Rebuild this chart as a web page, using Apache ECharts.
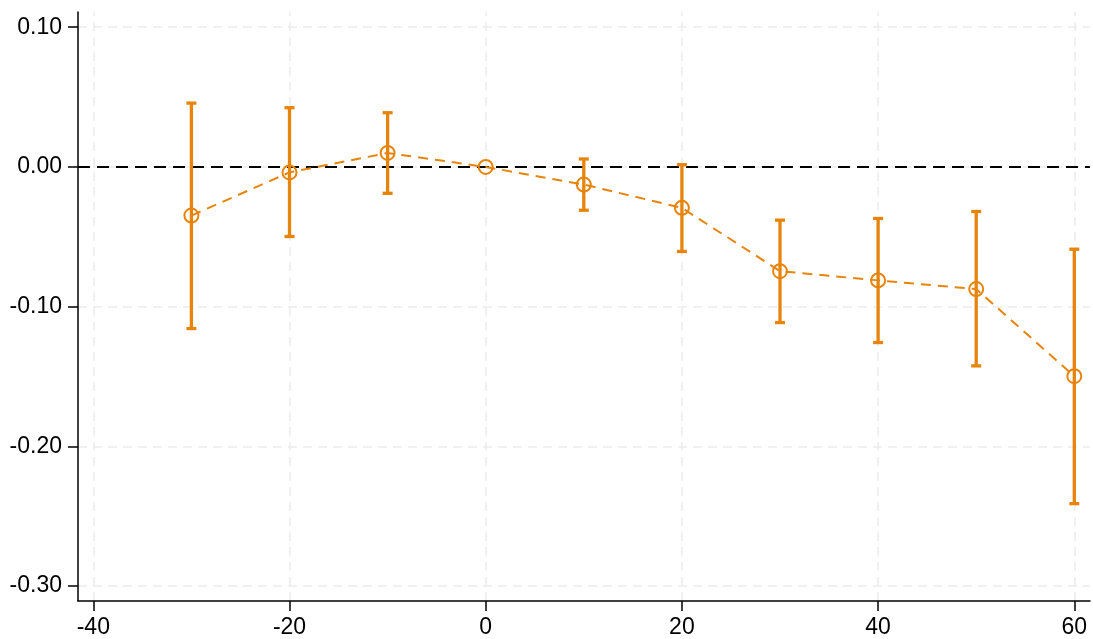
<!DOCTYPE html>
<html>
<head>
<meta charset="utf-8">
<script src="https://cdn.jsdelivr.net/npm/echarts@6/dist/echarts.min.js"></script>
<style>
  html, body { margin: 0; padding: 0; background: #fff; }
  #chart { width: 1093px; height: 639px; }
</style>
</head>
<body>
<div id="chart"></div>
<script>
// Event-time offsets and estimated effects with confidence bounds
const periods  = [-30, -20, -10, 0, 10, 20, 30, 40, 50, 60];
const estimate = [-0.0348, -0.0039, 0.0100, 0.0000, -0.0126, -0.0293, -0.0746, -0.0812, -0.0874, -0.1498];
const ciUpper  = [0.0457, 0.0424, 0.0388, 0.0000, 0.0057, 0.0016, -0.0381, -0.0369, -0.0319, -0.0589];
const ciLower  = [-0.1157, -0.0498, -0.0189, 0.0000, -0.0310, -0.0605, -0.1114, -0.1257, -0.1424, -0.2410];

// Axis ticks
const xTicks = [-40, -20, 0, 20, 40, 60];
const yTicks = [-0.30, -0.20, -0.10, 0.00, 0.10];

const ORANGE = '#e6840c';
const FONT = 'Liberation Sans, Arial, sans-serif';

const chart = echarts.init(document.getElementById('chart'), null, { renderer: 'canvas' });

const gridStyle = { color: '#ebebeb', width: 1.5, type: [9, 6] };

const option = {
  animation: false,
  backgroundColor: '#fff',
  grid: { left: 78, right: 3, top: 12, bottom: 38, containLabel: false },
  xAxis: {
    type: 'value',
    min: -41.56,
    max: 61.6,
    z: 10,
    axisLine: { show: true, onZero: false, lineStyle: { color: '#000', width: 1.5 } },
    axisTick: { show: true, inside: false, length: 10, customValues: xTicks, lineStyle: { color: '#000', width: 1.5 } },
    axisLabel: { customValues: xTicks, margin: 15, color: '#000', fontSize: 23, fontFamily: FONT },
    splitLine: { show: false }
  },
  yAxis: {
    type: 'value',
    min: -0.3107,
    max: 0.1109,
    z: 10,
    axisLine: { show: true, onZero: false, lineStyle: { color: '#000', width: 1.5 } },
    axisTick: { show: true, inside: false, length: 10, customValues: yTicks, lineStyle: { color: '#000', width: 1.5 } },
    axisLabel: { customValues: yTicks, margin: 16, color: '#000', fontSize: 23, fontFamily: FONT,
                 formatter: v => v.toFixed(2) },
    splitLine: { show: false }
  },
  series: [
    // Background grid lines at the tick values
    {
      type: 'line',
      data: [],
      silent: true,
      z: 0,
      markLine: {
        silent: true,
        z: 0,
        symbol: 'none',
        label: { show: false },
        emphasis: { disabled: true },
        lineStyle: gridStyle,
        data: xTicks.map(v => ({ xAxis: v })).concat(yTicks.map(v => ({ yAxis: v })))
      }
    },
    // Zero reference line
    {
      type: 'line',
      data: [],
      silent: true,
      z: 1,
      markLine: {
        silent: true,
        z: 1,
        symbol: 'none',
        label: { show: false },
        emphasis: { disabled: true },
        lineStyle: { color: '#000', width: 2, type: [12, 7] },
        data: [{ yAxis: 0 }]
      }
    },
    // Confidence intervals with caps
    {
      type: 'custom',
      z: 3,
      data: periods.map((p, i) => [p, ciLower[i], ciUpper[i]]),
      renderItem: function (params, api) {
        const x = api.value(0);
        const lo = api.coord([x, api.value(1)]);
        const hi = api.coord([x, api.value(2)]);
        const half = 5;
        const style = { stroke: ORANGE, lineWidth: 3.3, fill: null };
        if (Math.abs(lo[1] - hi[1]) < 0.5) return { type: 'group', children: [] };
        return {
          type: 'group',
          children: [
            { type: 'line', shape: { x1: lo[0], y1: lo[1], x2: hi[0], y2: hi[1] }, style: style },
            { type: 'line', shape: { x1: lo[0] - half, y1: lo[1], x2: lo[0] + half, y2: lo[1] }, style: style },
            { type: 'line', shape: { x1: hi[0] - half, y1: hi[1], x2: hi[0] + half, y2: hi[1] }, style: style }
          ]
        };
      }
    },
    // Point estimates connected by a dashed line
    {
      type: 'line',
      z: 4,
      data: periods.map((p, i) => [p, estimate[i]]),
      symbol: 'circle',
      symbolSize: 14,
      itemStyle: { color: 'rgba(0,0,0,0)', borderColor: ORANGE, borderWidth: 2 },
      lineStyle: { color: ORANGE, width: 2, type: [10, 7] },
      emphasis: { disabled: true }
    }
  ]
};

chart.setOption(option);
</script>
</body>
</html>
